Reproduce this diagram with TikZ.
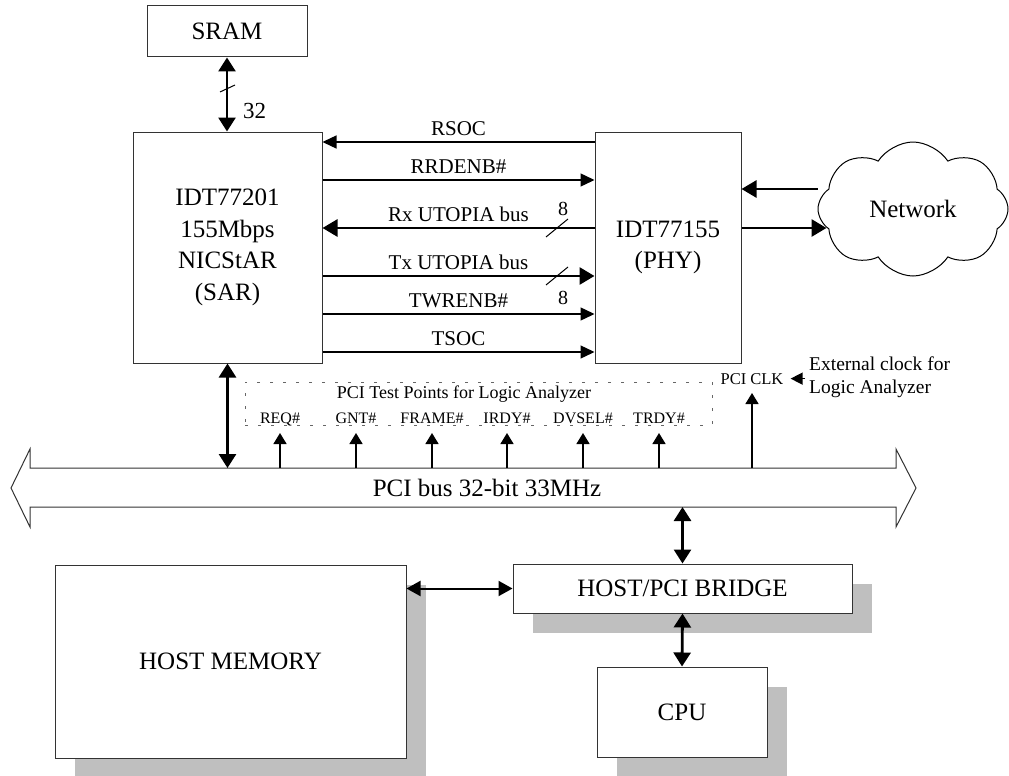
\documentclass[tikz,border=0pt]{standalone}
\usepackage{fontspec}
\setmainfont{Liberation Serif}
\usetikzlibrary{arrows.meta,shapes.symbols,shadows}

\tikzset{
  box/.style={draw=black!80, line width=1pt, fill=white, inner sep=0pt, align=center, font=\fontsize{25}{31.5}\selectfont},
  shade box/.style={box, drop shadow={shadow xshift=20pt, shadow yshift=-20pt, fill=black!25, opacity=1}},
  bus arrow/.style={line width=2.8pt, {Triangle[length=14pt,width=17pt]}-{Triangle[length=14pt,width=17pt]}},
  mid arrow/.style={line width=2pt, {Triangle[length=14pt,width=15pt]}-{Triangle[length=14pt,width=15pt]}},
  sig/.style={line width=1.4pt, -{Triangle[length=14pt,width=13pt]}},
  wide sig/.style={line width=2.8pt, -{Triangle[length=15pt,width=17pt]}},
  tp arrow/.style={line width=1.4pt, -{Triangle[length=11pt,width=13pt]}},
  lbl/.style={font=\fontsize{21}{24}\selectfont, anchor=base, yshift=7pt, inner sep=0pt},
  tplbl/.style={font=\fontsize{16}{18}\selectfont, anchor=base, inner sep=0pt},
  slash/.style={line width=1pt}
}

\begin{document}
\begin{tikzpicture}[x=1pt,y=-1pt]
\useasboundingbox (0,0) rectangle (1009,776);

% chips on the card
\node[box, minimum width=160pt, minimum height=51pt] (sram) at (227,31.5) {SRAM};
\node[box, minimum width=189pt, minimum height=231pt] (sar) at (227.5,247.5) {IDT77201\\155Mbps\\NICStAR\\(SAR)};
\node[box, minimum width=146pt, minimum height=231pt] (phy) at (668,247.5) {IDT77155\\(PHY)};
\node[cloud, draw=black, line width=1pt, cloud puffs=8, cloud puff arc=115, aspect=1.4, minimum width=190pt, minimum height=134pt, inner sep=0pt, font=\fontsize{25}{30}\selectfont] (net) at (913,209) {Network};

% sram link
\draw[bus arrow] (sram.south) -- (sram.south |- sar.north);
\draw[slash] (220,92) -- (235,85);
\node[font=\fontsize{23}{25}\selectfont, anchor=base west, inner sep=0pt] (w32) at (243,118) {32};

% sar / phy signals
\draw[sig] (phy.west |- 0,142) -- node[lbl] {RSOC} (sar.east |- 0,142);
\draw[sig] (sar.east |- 0,180) -- node[lbl] {RRDENB\#} (phy.west |- 0,180);
\draw[wide sig] (phy.west |- 0,228) -- node[lbl] {Rx UTOPIA bus} (sar.east |- 0,228);
\draw[wide sig] (sar.east |- 0,276) -- node[lbl] {Tx UTOPIA bus} (phy.west |- 0,276);
\draw[sig] (sar.east |- 0,314) -- node[lbl] {TWRENB\#} (phy.west |- 0,314);
\draw[sig] (sar.east |- 0,352) -- node[lbl] {TSOC} (phy.west |- 0,352);
\draw[slash] (546,237) -- (568,219);
\draw[slash] (546,285) -- (568,267);
\node[font=\fontsize{20}{22}\selectfont, anchor=base, inner sep=0pt] (w8rx) at (563,215) {8};
\node[font=\fontsize{20}{22}\selectfont, anchor=base, inner sep=0pt] (w8tx) at (563,304) {8};

% network
\draw[wide sig] ([yshift=20pt]net.west) -- ([yshift=20pt]net.west -| phy.east);
\draw[wide sig] ([yshift=-19pt]net.west -| phy.east) -- ([yshift=-19pt,xshift=9pt]net.west);

% pci bus
\draw[line width=1pt, draw=black!80] (11,488) -- (30,449) -- (30,468) -- (896,468) -- (896,449) -- (916,488) -- (896,527) -- (896,507) -- (30,507) -- (30,527) -- cycle;
\coordinate (bustop) at (0,468);
\coordinate (busbot) at (0,507);
\node[font=\fontsize{25}{30}\selectfont, inner sep=0pt] (bus) at (487,488) {PCI bus 32-bit 33MHz};
\draw[bus arrow] (sar.south) -- (sar.south |- bustop);

% test points
\node[draw=black!60, dash pattern=on 3pt off 10pt, line width=0.8pt, minimum width=467pt, minimum height=43pt, inner sep=0pt] (tp) at (478.5,403.5) {};
\node[tplbl, font=\fontsize{18}{20}\selectfont] (tptitle) at (464,398) {PCI Test Points for Logic Analyzer};
\node[tplbl] (req) at (280,423) {REQ\#};
\node[tplbl] (gnt) at (356,423) {GNT\#};
\node[tplbl] (frame) at (432,423) {FRAME\#};
\node[tplbl] (irdy) at (507,423) {IRDY\#};
\node[tplbl] (dvsel) at (583,423) {DVSEL\#};
\node[tplbl] (trdy) at (659,423) {TRDY\#};
\draw[tp arrow] (req |- bustop) -- ++(0,-35);
\draw[tp arrow] (gnt |- bustop) -- ++(0,-35);
\draw[tp arrow] (frame |- bustop) -- ++(0,-35);
\draw[tp arrow] (irdy |- bustop) -- ++(0,-35);
\draw[tp arrow] (dvsel |- bustop) -- ++(0,-35);
\draw[tp arrow] (trdy |- bustop) -- ++(0,-35);

% clock
\node[tplbl, font=\fontsize{16.5}{18}\selectfont] (clk) at (752,384) {PCI CLK};
\draw[tp arrow] (clk |- bustop) -- ++(0,-75);
\node[font=\fontsize{19.5}{23.5}\selectfont, align=left, anchor=west, inner sep=0pt] (ext) at (809,377) {External clock for\\Logic Analyzer};
\draw[line width=1.4pt, -{Triangle[length=12pt,width=12pt]}, shorten <=4pt, shorten >=7pt] (ext.west |- clk) -- (clk.east);

% host side
\node[shade box, minimum width=351pt, minimum height=193pt] (mem) at (230.5,661.5) {HOST MEMORY};
\node[shade box, minimum width=339pt, minimum height=49pt] (bridge) at (682.5,588.5) {HOST/PCI BRIDGE};
\node[shade box, minimum width=170pt, minimum height=90pt] (cpu) at (682,712) {CPU};
\draw[bus arrow] (bridge.north |- busbot) -- (bridge.north);
\draw[bus arrow] (bridge.south) -- (cpu.north);
\draw[mid arrow] (bridge.west) -- (bridge.west -| mem.east);

\end{tikzpicture}
\end{document}
